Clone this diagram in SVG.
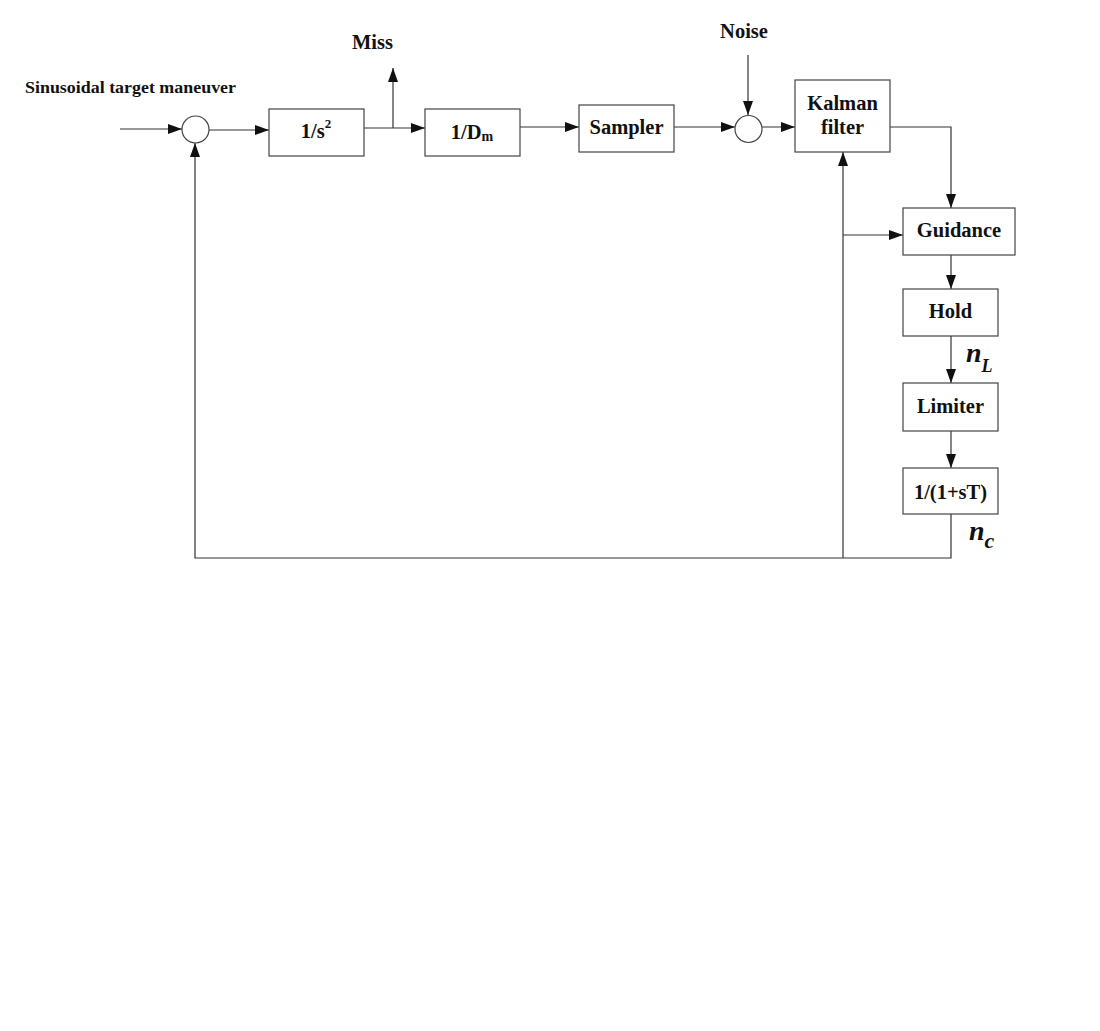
<svg xmlns="http://www.w3.org/2000/svg" width="1100" height="1031" viewBox="0 0 1100 1031">
<style>
.box{fill:#fff;stroke:#444;stroke-width:1.2}
.sum{fill:#fff;stroke:#444;stroke-width:1.2}
.ln{fill:none;stroke:#333;stroke-width:1.2}
.t{font-family:"Liberation Serif","Times New Roman",serif;font-weight:bold;font-size:20.5px;fill:#111;text-anchor:middle}
.var{font-family:"Liberation Serif","Times New Roman",serif;font-weight:bold;font-style:italic;fill:#111}
</style>
<defs>
<marker id="ah" markerWidth="14" markerHeight="10" refX="14" refY="5" orient="auto" markerUnits="userSpaceOnUse">
<path d="M0,0 L14,5 L0,10 Z" fill="#111"/>
</marker>
</defs>
<rect width="1100" height="1031" fill="#fff"/>

<g id="labels">
<text class="t" x="25" y="93" style="text-anchor:start;font-size:17.5px" textLength="211" lengthAdjust="spacingAndGlyphs">Sinusoidal target maneuver</text>
<text class="t" x="372.5" y="49">Miss</text>
<text class="t" x="744" y="38">Noise</text>
<text class="var" x="966" y="362" font-size="28">n<tspan font-size="18" dy="10">L</tspan></text>
<text class="var" x="969" y="540" font-size="28">n<tspan font-size="22" dy="8">c</tspan></text>
</g>

<g id="connectors">
<line class="ln" x1="120" y1="129" x2="182" y2="129" marker-end="url(#ah)"/>
<line class="ln" x1="209" y1="130" x2="269" y2="130" marker-end="url(#ah)"/>
<line class="ln" x1="364" y1="128" x2="425" y2="128" marker-end="url(#ah)"/>
<line class="ln" x1="393" y1="128" x2="393" y2="68" marker-end="url(#ah)"/>
<line class="ln" x1="520" y1="127" x2="579" y2="127" marker-end="url(#ah)"/>
<line class="ln" x1="674" y1="127" x2="735" y2="127" marker-end="url(#ah)"/>
<line class="ln" x1="748" y1="55" x2="748" y2="115" marker-end="url(#ah)"/>
<line class="ln" x1="762" y1="127" x2="795" y2="127" marker-end="url(#ah)"/>
<polyline class="ln" points="890,127 951,127 951,208" marker-end="url(#ah)"/>
<line class="ln" x1="951" y1="255" x2="951" y2="289" marker-end="url(#ah)"/>
<line class="ln" x1="951" y1="336" x2="951" y2="383" marker-end="url(#ah)"/>
<line class="ln" x1="951" y1="431" x2="951" y2="468" marker-end="url(#ah)"/>
<polyline class="ln" points="951,514 951,558 195,558 195,143" marker-end="url(#ah)"/>
<line class="ln" x1="843" y1="558" x2="843" y2="152" marker-end="url(#ah)"/>
<line class="ln" x1="843" y1="235" x2="903" y2="235" marker-end="url(#ah)"/>
</g>

<g id="sum1"><circle class="sum" cx="195.5" cy="129.5" r="13.5"/></g>
<g id="sum2"><circle class="sum" cx="748.5" cy="129" r="13.5"/></g>

<g id="integrator">
<rect class="box" x="269" y="109" width="95" height="47"/>
<text class="t" x="316" y="138">1/s<tspan font-size="13" dy="-10">2</tspan></text>
</g>
<g id="range">
<rect class="box" x="425" y="109" width="95" height="47"/>
<text class="t" x="472" y="139">1/D<tspan font-size="14" dy="2">m</tspan></text>
</g>
<g id="sampler">
<rect class="box" x="579" y="105" width="95" height="47"/>
<text class="t" x="626.5" y="134">Sampler</text>
</g>
<g id="kalman">
<rect class="box" x="795" y="80" width="95" height="72"/>
<text class="t" x="842.5" y="110">Kalman</text>
<text class="t" x="842.5" y="134">filter</text>
</g>
<g id="guidance">
<rect class="box" x="903" y="208" width="112" height="47"/>
<text class="t" x="959" y="237">Guidance</text>
</g>
<g id="hold">
<rect class="box" x="903" y="289" width="95" height="47"/>
<text class="t" x="950.5" y="318">Hold</text>
</g>
<g id="limiter">
<rect class="box" x="903" y="383" width="95" height="48"/>
<text class="t" x="950.5" y="413">Limiter</text>
</g>
<g id="lag">
<rect class="box" x="903" y="468" width="95" height="46"/>
<text class="t" x="950.5" y="499">1/(1+sT)</text>
</g>
</svg>
